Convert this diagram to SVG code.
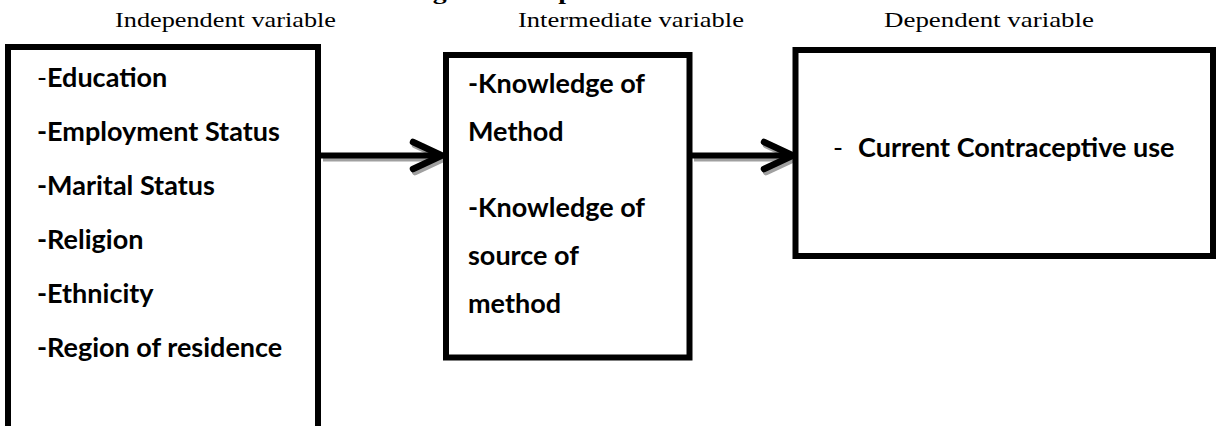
<svg xmlns="http://www.w3.org/2000/svg" width="1219" height="426" viewBox="0 0 1219 426">
  <style>
    .hdr { font-family: "Liberation Serif", "Times New Roman", serif; font-size: 22px; fill: #000; }
    .ttl { font-family: "Liberation Serif", "Times New Roman", serif; font-size: 22px; font-weight: bold; fill: #000; }
    .lbl { font-family: Lato, "Liberation Sans", sans-serif; font-size: 27px; font-weight: bold; fill: #000; }
    .thin { font-weight: normal; }
    .box { fill: #fff; stroke: #000; stroke-width: 6; }
    .shaft { stroke-width: 6; fill: none; }
    .head { stroke-width: 6.5; fill: none; stroke-linecap: round; stroke-linejoin: miter; stroke-miterlimit: 10; }
    .shadow { stroke: #a0a0a0; }
    .ink { stroke: #000; }
  </style>

  <rect width="1219" height="426" fill="#fff"/>

  <g id="title">
    <text class="ttl" x="408" y="-1.5" textLength="360" lengthAdjust="spacingAndGlyphs">Fig 1: Conceptual Framework</text>
  </g>

  <g id="headers">
    <text class="hdr" x="115" y="27" textLength="221" lengthAdjust="spacingAndGlyphs">Independent variable</text>
    <text class="hdr" x="518" y="27" textLength="226" lengthAdjust="spacingAndGlyphs">Intermediate variable</text>
    <text class="hdr" x="884" y="27" textLength="210" lengthAdjust="spacingAndGlyphs">Dependent variable</text>
  </g>

  <g id="connectors">
    <g transform="translate(2,3)">
      <line class="shaft shadow" x1="321" y1="155.5" x2="438" y2="155.5"/>
      <polyline class="head shadow" points="413,142 442,155.5 413,169"/>
      <line class="shaft shadow" x1="692" y1="155.5" x2="790" y2="155.5"/>
      <polyline class="head shadow" points="764,142 793,155.5 764,169"/>
    </g>
    <line class="shaft ink" x1="321" y1="155.5" x2="438" y2="155.5"/>
    <polyline class="head ink" points="413,142 442,155.5 413,169"/>
    <line class="shaft ink" x1="692" y1="155.5" x2="790" y2="155.5"/>
    <polyline class="head ink" points="764,142 793,155.5 764,169"/>
  </g>

  <g id="node-independent">
    <rect class="box" x="8" y="47" width="310" height="400"/>
    <text class="lbl" x="37" y="87"><tspan class="thin">-</tspan>Education</text>
    <text class="lbl" x="37" y="141">-Employment Status</text>
    <text class="lbl" x="37" y="195">-Marital Status</text>
    <text class="lbl" x="37" y="249">-Religion</text>
    <text class="lbl" x="37" y="303">-Ethnicity</text>
    <text class="lbl" x="37" y="357">-Region of residence</text>
  </g>

  <g id="node-intermediate">
    <rect class="box" x="446" y="55" width="243.5" height="302.5"/>
    <text class="lbl" x="468" y="93">-Knowledge of</text>
    <text class="lbl" x="468" y="141">Method</text>
    <text class="lbl" x="468" y="217">-Knowledge of</text>
    <text class="lbl" x="468" y="265">source of</text>
    <text class="lbl" x="468" y="313">method</text>
  </g>

  <g id="node-dependent">
    <rect class="box" x="795.5" y="50" width="417.5" height="206"/>
    <text class="lbl" x="833" y="157"><tspan class="thin">-</tspan><tspan x="858">Current Contraceptive use</tspan></text>
  </g>
</svg>
